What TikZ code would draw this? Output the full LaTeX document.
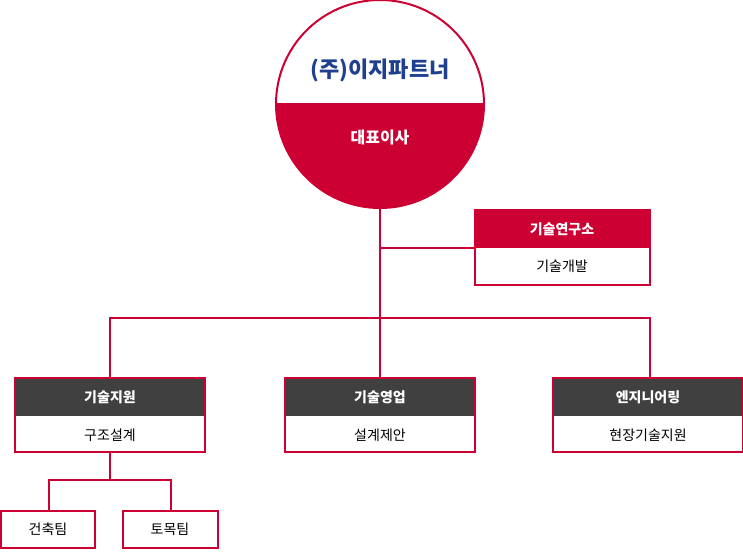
\documentclass[tikz,border=0pt]{standalone}
\usepackage{fontspec}
\setmainfont{Noto Sans CJK KR}
\begin{document}
\definecolor{rd}{HTML}{CC0033}
\definecolor{dk}{HTML}{404040}
\definecolor{bl}{HTML}{1F3F8F}
\begin{tikzpicture}[x=1pt,y=-1pt,
 ln/.style={rd,line width=2pt},
 hd/.style={font=\fontsize{14}{16}\selectfont\bfseries,text=white},
 bd/.style={font=\fontsize{14}{16}\selectfont,text=black}]
\useasboundingbox (0,0) rectangle (743,555);
% circle
\fill[rd] (380,104) ++(-104,0) arc[start angle=180,end angle=360,x radius=104,y radius=-104] -- cycle;
\draw[rd,line width=2pt] (380,104) circle[radius=104];
\draw[rd,line width=2pt] (276,104) -- (484,104);
\node[font=\fontsize{22}{24}\selectfont\bfseries,text=bl] (logo) at (380,70) {(주)이지파트너};
\node[hd,font=\fontsize{16}{18}\selectfont\bfseries] (ceo) at (380,138) {대표이사};
\coordinate (cb) at (380,208);
% research
\fill[rd] (475,210) rectangle (650,248);
\draw[ln] (475,210) rectangle (650,285);
\node[hd] (rh) at (562,229) {기술연구소};
\node[bd] (rb) at (562,266) {기술개발};
\coordinate (rj) at (380,248);
\coordinate (rl) at (475,248);
\draw[ln] (cb) -- (380,318);
\draw[ln] (rj) -- (rl);
\draw[ln] (110,378) |- (650,318) -- (650,378);
\draw[ln] (380,318) -- (380,378);
% boxes
\foreach \x/\h/\b/\n in {110/기술지원/구조설계/a,380/기술영업/설계제안/b,648/엔지니어링/현장기술지원/c}{
 \fill[dk] (\x-95,378) rectangle (\x+95,416);
 \draw[ln] (\x-95,378) rectangle (\x+95,452);
 \node[hd] (\n h) at (\x,397) {\h};
 \node[bd] (\n b) at (\x,435) {\b};
}
\draw[ln] (110,452) -- (110,480);
\draw[ln] (49,511) |- (171,480) -- (171,511);
\draw[ln] (1,511) rectangle (95,548);
\draw[ln] (123,511) rectangle (218,548);
\node[bd] (t1) at (48,529) {건축팀};
\node[bd] (t2) at (170,529) {토목팀};
\end{tikzpicture}
\end{document}
